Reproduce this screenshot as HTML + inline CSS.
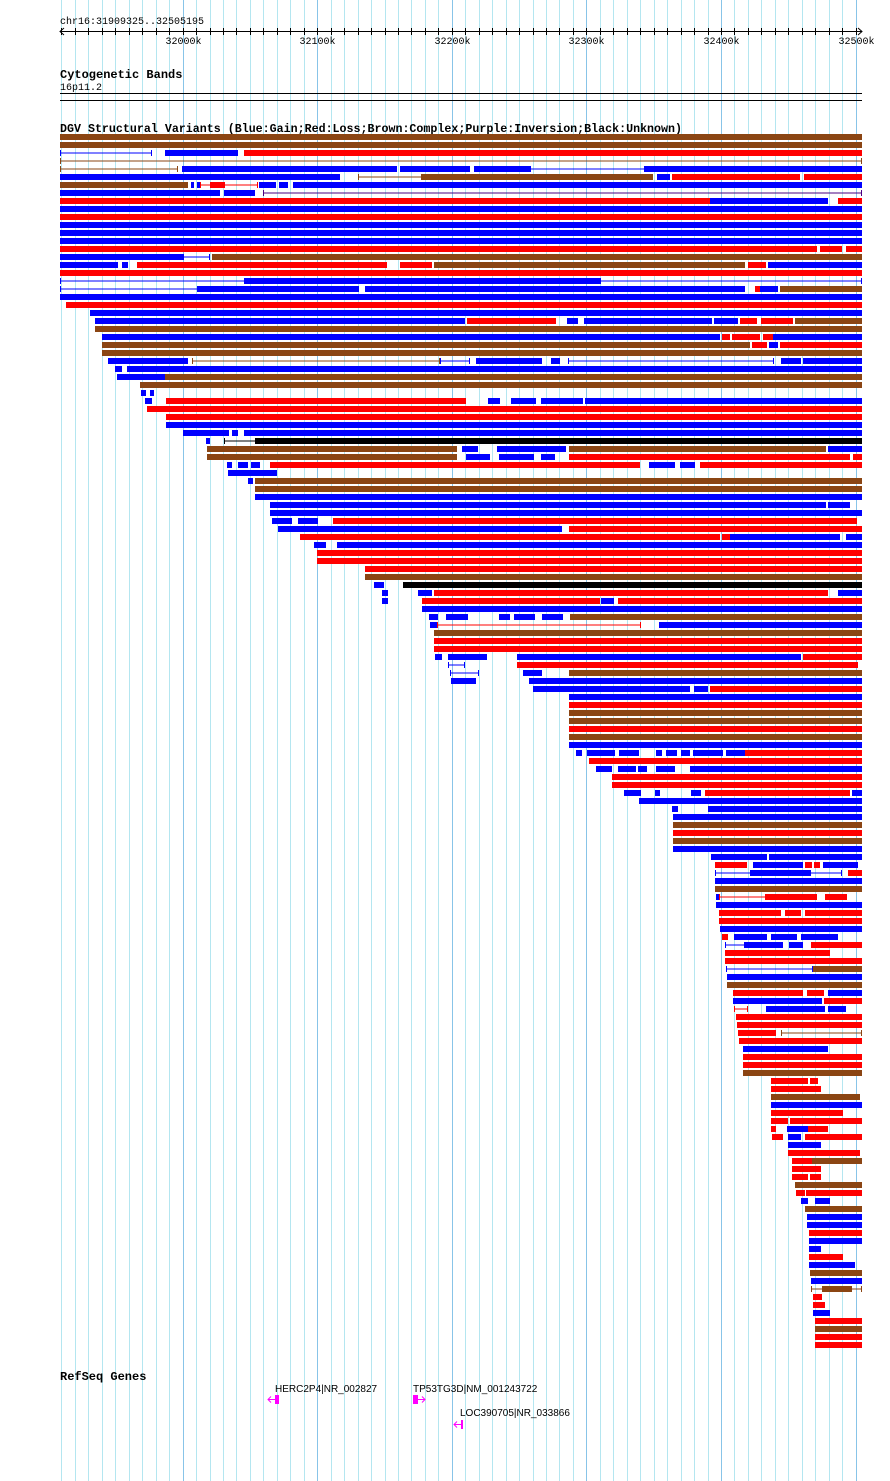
<!DOCTYPE html>
<html><head><meta charset="utf-8"><style>
html,body{margin:0;padding:0;background:#fff;}
body{width:890px;height:1481px;overflow:hidden;}
svg{display:block;}
.m{font-family:"Liberation Mono",monospace;font-size:10px;fill:#000;}
.b{font-family:"Liberation Mono",monospace;font-size:12px;font-weight:bold;fill:#000;}
.g{font-family:"Liberation Sans",sans-serif;font-size:10px;fill:#000;}
</style></head><body>
<svg id="s" width="890" height="1481" xmlns="http://www.w3.org/2000/svg">
<g id="grid"></g>
<text class="m" x="60" y="24">chr16:31909325..32505195</text>
<line x1="60" y1="31.5" x2="862" y2="31.5" stroke="#000"/>
<path d="M64 28 L60 31.5 L64 35 M858 28 L862 31.5 L858 35" stroke="#000" fill="none"/>
<g id="ticks"></g>
<text class="b" x="60" y="78">Cytogenetic Bands</text>
<text class="m" x="60" y="90">16p11.2</text>
<line x1="60" y1="93.5" x2="862" y2="93.5" stroke="#000"/>
<line x1="60" y1="100.5" x2="862" y2="100.5" stroke="#000"/>
<text class="b" x="60" y="132" textLength="622" lengthAdjust="spacingAndGlyphs">DGV Structural Variants (Blue:Gain;Red:Loss;Brown:Complex;Purple:Inversion;Black:Unknown)</text>
<g id="rows"></g>
<text class="b" x="60" y="1380">RefSeq Genes</text>
<text class="g" x="275" y="1392">HERC2P4|NR_002827</text>
<rect x="275" y="1395" width="4" height="9" fill="#ff00ff"/>
<path d="M268 1399.5 H275 M271 1396.5 L268 1399.5 L271 1402.5" stroke="#ff00ff" fill="none"/>
<text class="g" x="413" y="1392">TP53TG3D|NM_001243722</text>
<rect x="413" y="1395" width="5" height="9" fill="#ff00ff"/>
<path d="M418 1399.5 H425 M422 1396.5 L425 1399.5 L422 1402.5" stroke="#ff00ff" fill="none"/>
<text class="g" x="460" y="1416">LOC390705|NR_033866</text>
<rect x="461" y="1420" width="2" height="9" fill="#ff00ff"/>
<path d="M454 1424.5 H461 M457 1421.5 L454 1424.5 L457 1427.5" stroke="#ff00ff" fill="none"/>
</svg>
<script>
var NS="http://www.w3.org/2000/svg";
function el(p,t,a){var e=document.createElementNS(NS,t);for(var k in a)e.setAttribute(k,a[k]);p.appendChild(e);return e;}
var grid=document.getElementById('grid'),ticks=document.getElementById('ticks'),rows=document.getElementById('rows');
for(var k=-9;k<=50;k++){var x=Math.round(182.6+13.46*k)+0.5;if(x<60||x>863)continue;
 el(grid,'line',{x1:x,y1:0,x2:x,y2:1481,stroke:(k%10==0)?'#88c4e8':'#b4e6f0'});
 el(ticks,'line',{x1:x,y1:28,x2:x,y2:35,stroke:'#000'});
 if(k%10==0){var t=el(ticks,'text',{x:x,y:44,'class':'m','text-anchor':'middle'});t.textContent=(32000+k*10)+'k';}}
var C={B:'#0000ff',R:'#ff0000',N:'#8b4513',K:'#000000',P:'#4b0082'};
var D=[
"N60-862","N60-862","b60-152 B165-238 B244-862 R244-862","n60-862",
"n60-178 B182-397 B400-470 B474-530 b530-645 B645-862",
"B60-340 n358-422 N422-653 B657-670 R672-800 R804-862",
"N60-188 B191-194 B197-200 r200-258 R210-225 B259-276 B279-288 B293-862",
"B60-220 B224-255 p263-862","R60-710 B710-828 R838-862","B60-862","R60-862","B60-862","B60-862","B60-862",
"R60-817 R820-842 R846-862","B60-183 b183-210 N212-862",
"B60-118 B122-128 R137-387 R400-432 N434-745 R748-766 B768-862","R60-862",
"b60-245 B245-600 b600-862","b60-198 B198-359 B365-745 R755-760 B760-778 N780-862",
"B60-862","R66-862","B90-862",
"B95-465 R467-556 B567-578 B584-712 B714-738 R740-757 R761-793 N795-862",
"N95-862","B102-720 R722-730 R732-760 R763-773 B773-862","N102-750 R752-767 B769-778 R780-862","N102-862",
"B108-188 n192-440 b440-470 B476-542 B551-560 b568-774 B781-801 B803-862",
"B115-122 B127-862","B117-165 N165-862","N140-862","B141-146 B150-154",
"B145-152 R166-466 B488-500 B511-536 B541-583 B585-862",
"R147-862","R166-862","B166-862","B183-229 B232-238 B244-862",
"B206-210 k224-256 K256-862","N207-457 B462-478 B497-566 N569-826 B828-862",
"N207-457 B466-490 B499-534 B541-555 R569-850 R853-862",
"B227-232 B238-248 B251-260 R270-640 B649-675 B680-695 R700-862",
"B228-277","B248-253 N255-862","N255-862","B255-862","B270-826 B828-850","B270-862",
"B272-292 B298-318 R333-857","B278-562 R569-862","R300-720 R722-730 B730-840 B846-862",
"B314-326 B337-862","R317-862","R317-862","R365-862","N365-862","B374-384 K403-862",
"B382-388 B418-432 R434-828 B838-862","B382-388 R422-600 B601-614 R618-862","B422-862",
"B429-438 B446-468 B499-510 B514-535 B542-563 N570-862","B430-437 r437-641 B659-862",
"N434-862","R434-862","R434-862","B435-442 B448-487 B517-801 R803-862","b448-465 R517-858",
"b450-479 B523-542 N569-862","B451-476 B529-862","B533-690 B694-708 R710-862",
"B569-862","R569-862","N569-862","N569-862","R569-862","N569-862","B569-862",
"B576-582 B587-615 B619-639 B656-662 B666-677 B681-690 B693-723 B726-745 R745-862",
"R589-862","B596-612 B618-636 B638-647 B656-675 B690-862","R612-862","R612-862",
"B624-641 B655-660 B691-701 R705-850 B852-862","B639-862","B672-678 B708-862","B673-862",
"N673-862","R673-862","N673-862","B673-862","B711-767 B769-862",
"R715-747 B753-803 R805-812 R814-820 B823-858","b715-751 B751-810 b810-842 R848-862",
"B715-862","N715-862","B716-719 r719-800 R765-817 R825-847","B716-862",
"R719-781 R785-801 R805-862","R719-862","B720-862","R722-728 B734-767 B771-797 B801-838",
"b725-745 B745-783 B789-803 R811-862","R725-830","R725-862","b726-813 N813-862","B727-862","N727-862",
"R733-803 R807-824 B828-862","B733-822 R824-862","r734-748 B766-825 B828-846",
"R736-862","R737-862","R738-776 n781-862","R739-862","B743-828","R743-862","R743-862","N743-862",
"R771-808 R810-818","R771-821","N771-860","B771-862","R771-843","R771-788 R790-862",
"R771-776 B787-808 R808-828","R772-783 B788-801 R805-862","B788-821","R788-860",
"R792-812 N812-862","R792-821","R792-808 R810-821","N795-862","R796-805 R806-862",
"B801-808 B815-830","N805-862","B807-862","B807-862","R809-862","B809-862","B809-821",
"R809-843","B809-855","N810-862","B811-862","n811-862 N822-852","R813-822","R813-825",
"B813-830","R815-862","N815-862","R815-862","R815-862"];
for(var i=0;i<D.length;i++){var y=134+8*i;D[i].split(' ').forEach(function(s){
 var c=s[0],r=s.slice(1).split('-'),a=+r[0],b=+r[1];
 if(c==c.toUpperCase()){el(rows,'rect',{x:a,y:y,width:b-a,height:6,fill:C[c]});}
 else{var col=C[c.toUpperCase()];el(rows,'rect',{x:a,y:y+2.5,width:b-a,height:1,fill:col});
  el(rows,'rect',{x:a,y:y,width:1,height:6,fill:col});el(rows,'rect',{x:b-1,y:y,width:1,height:6,fill:col});}
});}
</script>
</body></html>
